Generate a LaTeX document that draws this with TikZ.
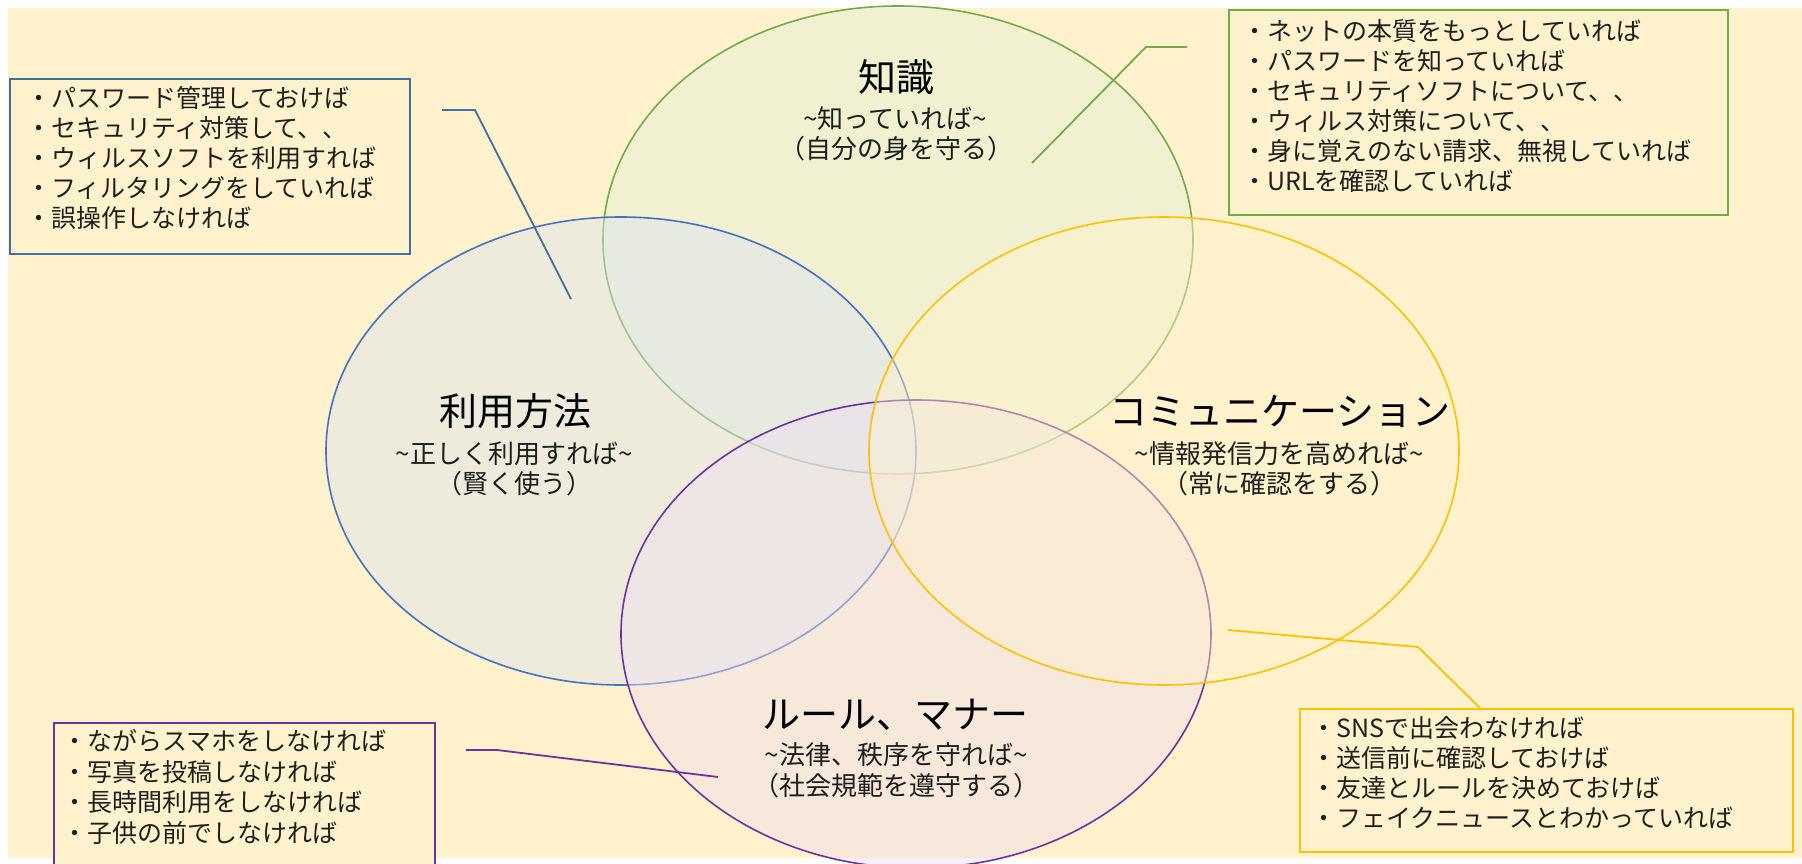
\documentclass[tikz,border=0pt]{standalone}
\usepackage{fontspec}
\setmainfont{Noto Sans CJK JP}
\usetikzlibrary{shapes.geometric}
\definecolor{bgcream}{HTML}{FFF2CC}
\definecolor{cblue}{HTML}{4472C4}
\definecolor{cbluedark}{HTML}{41719C}
\definecolor{cgreen}{HTML}{70AD47}
\definecolor{cyellow}{HTML}{FFC000}
\definecolor{cpurple}{HTML}{7030A0}
\definecolor{fblue}{HTML}{DAE3F3}
\definecolor{fgreen}{HTML}{E2F0D9}
\definecolor{fpurple}{HTML}{EEDEF0}
\definecolor{txt}{HTML}{1F1F1F}
\begin{document}
\begin{tikzpicture}[x=1pt,y=-1pt,
  venn/.style={ellipse, minimum width=590pt, minimum height=468pt, inner sep=0pt,
    line width=1.6pt, fill opacity=0.45, draw opacity=1},
  title/.style={font=\fontsize{38}{44}\selectfont, text=black, inner sep=0pt,
    text height=32pt, text depth=5pt},
  desc/.style={font=\fontsize{26}{30}\selectfont, text=txt, inner sep=0pt,
    text height=22pt, text depth=4pt},
  listtext/.style={font=\fontsize{25}{30}\selectfont, text=txt, inner sep=0pt,
    anchor=west, text height=21pt, text depth=4pt},
  listbox/.style={draw, fill=bgcream, line width=2.2pt, inner sep=0pt, anchor=north west},
  callout/.style={line width=1.8pt}
]
\useasboundingbox (0,0) rectangle (1802,864);
\fill[white] (0,0) rectangle (1802,864);
\fill[bgcream] (8,8) rectangle (1802,858);

% ellipses
\node[venn, draw=cgreen, fill=fgreen] (kn) at (898,240) {};
\node[venn, draw=cblue, fill=fblue] (use) at (621,451) {};
\node[venn, draw=cpurple, fill=fpurple] (rule) at (916,634) {};
\node[venn, draw=cyellow, fill=bgcream] (comm) at (1164,451) {};

% callout coordinates
\coordinate (bl-a) at (442,110);
\coordinate (bl-b) at (475,110);
\coordinate (bl-c) at (571,299);
\coordinate (gr-a) at (1187,47);
\coordinate (gr-b) at (1146,47);
\coordinate (gr-c) at (1032,163);
\coordinate (pu-a) at (466,750);
\coordinate (pu-b) at (497,750);
\coordinate (pu-c) at (718,777);
\coordinate (ye-a) at (1228,630);
\coordinate (ye-b) at (1418,647);
\coordinate (ye-c) at (1480,708);

\draw[callout, cbluedark] (bl-a) -- (bl-b) -- (bl-c);
\draw[callout, cgreen] (gr-a) -- (gr-b) -- (gr-c);
\draw[callout, cpurple] (pu-a) -- (pu-b) -- (pu-c);
\draw[callout, cyellow] (ye-a) -- (ye-b) -- (ye-c);

% boxes
\node[listbox, draw=cbluedark, minimum width=400pt, minimum height=175pt] (box-use) at (9,78) {};
\node[listbox, draw=cgreen, minimum width=499pt, minimum height=205pt] (box-kn) at (1228,9) {};
\node[listbox, draw=cpurple, minimum width=381pt, minimum height=160pt] (box-rule) at (53,722) {};
\node[listbox, draw=cyellow, minimum width=493pt, minimum height=143pt] (box-comm) at (1299,708) {};

% list texts
\foreach \t [count=\i from 0] in {・パスワード管理しておけば,・セキュリティ対策して、、,・ウィルスソフトを利用すれば,・フィルタリングをしていれば,・誤操作しなければ}
  \node[listtext] (lu-\i) at (26,{99+30*\i}) {\t};
\foreach \t [count=\i from 0] in {・ネットの本質をもっとしていれば,・パスワードを知っていれば,・セキュリティソフトについて、、,・ウィルス対策について、、,・身に覚えのない請求、無視していれば,・URLを確認していれば}
  \node[listtext] (lk-\i) at (1242,{32+30*\i}) {\t};
\foreach \t [count=\i from 0] in {・ながらスマホをしなければ,・写真を投稿しなければ,・長時間利用をしなければ,・子供の前でしなければ}
  \node[listtext] (lr-\i) at (62,{742+30.5*\i}) {\t};
\foreach \t [count=\i from 0] in {・SNSで出会わなければ,・送信前に確認しておけば,・友達とルールを決めておけば,・フェイクニュースとわかっていれば}
  \node[listtext] (lc-\i) at (1311,{729+30*\i}) {\t};

% titles
\node[title] (t-kn) at (896,78) {知識};
\node[desc] (d-kn) at (895,120) {\textasciitilde 知っていれば\textasciitilde};
\node[desc] (p-kn) at (896,149) {（自分の身を守る）};

\node[title] (t-use) at (515,412) {利用方法};
\node[desc] (d-use) at (514,454) {\textasciitilde 正しく利用すれば\textasciitilde};
\node[desc] (p-use) at (514,484) {（賢く使う）};

\node[title] (t-comm) at (1280,412) {コミュニケーション};
\node[desc] (d-comm) at (1279,454) {\textasciitilde 情報発信力を高めれば\textasciitilde};
\node[desc] (p-comm) at (1279,484) {（常に確認をする）};

\node[title] (t-rule) at (895,715) {ルール、マナー};
\node[desc] (d-rule) at (896,755) {\textasciitilde 法律、秩序を守れば\textasciitilde};
\node[desc] (p-rule) at (896,786) {（社会規範を遵守する）};
\end{tikzpicture}
\end{document}
